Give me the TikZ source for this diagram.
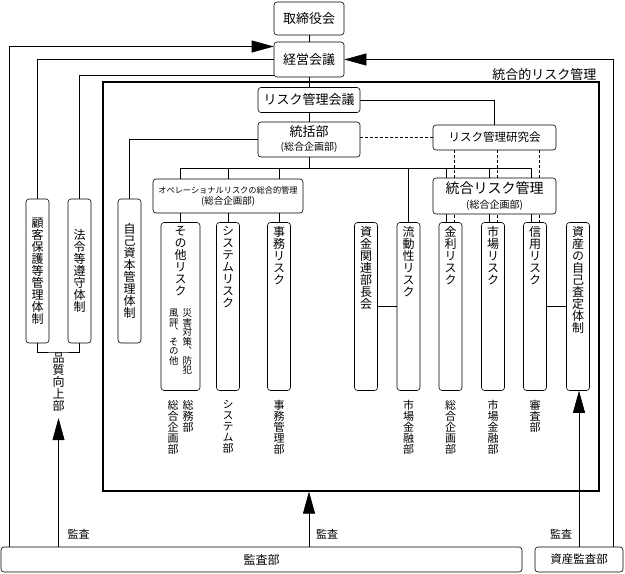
\documentclass[tikz,border=0pt]{standalone}
\usepackage{fontspec}
\setmainfont{Noto Sans CJK JP}
\newfontfamily\tatefont{Noto Sans CJK JP}[RawFeature=+vert]
\usetikzlibrary{arrows.meta}

% 縦書き（1文字ずつ積む）
\makeatletter
\def\tate@stop{\relax tate}
\def\tate@loop#1{\ifx#1\tate@stop\else\hbox to 1em{\hss#1\hss}\expandafter\tate@loop\fi}
\newcommand\tatetext[2][12pt]{\vtop{\tatefont\fontsize{#1}{#1}\selectfont
  \baselineskip=#1\relax\lineskiplimit=-100pt\relax
  \expandafter\tate@loop#2\tate@stop}}
\makeatother

\begin{document}
\begin{tikzpicture}[x=1pt, y=-1pt, line width=0.6pt,
    box/.style={draw, rounded corners=3pt, inner sep=0pt, align=center,
      font=\fontsize{13}{15}\selectfont},
    lowbox/.style={box, minimum width=23pt, minimum height=144pt},
    tallbox/.style={box, minimum width=23pt, minimum height=168pt},
    frameline/.style={draw, line width=1.2pt, inner sep=0pt,
      minimum width=496pt, minimum height=409pt},
    bigarrow/.style={-{Triangle[length=22pt,width=12pt]}},
    kenkyuline/.style={dash pattern=on 3pt off 2pt}]
  \useasboundingbox (0,0) rectangle (625,574);

  % 取締役会・経営会議
  \node[box, minimum width=70pt, minimum height=33pt] (torishimari) at (309,18.5) {取締役会};
  \node[box, minimum width=70pt, minimum height=35pt] (keiei) at (309,59.5) {経営会議};

  % 統合的リスク管理の枠
  \node[frameline] (frame) at (351,286.5) {};
  \node[anchor=south east, inner sep=1pt, font=\fontsize{13}{15}\selectfont]
    (framelabel) at ([xshift=-2pt]frame.north east) {統合的リスク管理};

  % 会議・統括部
  \node[box, minimum width=102pt, minimum height=25pt] (riskkaigi) at (309,100) {リスク管理会議};
  \node[box, minimum width=102pt, minimum height=35pt] (tokatsu) at (309,139.5)
    {統括部\\[-1pt]{\fontsize{10}{12}\selectfont (総合企画部)}};
  \node[box, minimum width=123pt, minimum height=25pt, font=\fontsize{11.5}{13}\selectfont]
    (kenkyu) at (494.5,137.5) {リスク管理研究会};
  \node[box, minimum width=150pt, minimum height=34pt, font=\fontsize{8.2}{10}\selectfont]
    (ope) at (228,196) {オペレーショナルリスクの総合的管理\\[1pt]{\fontsize{9.5}{11}\selectfont (総合企画部)}};

  % 縦長の箱
  \foreach \nm/\x/\txt in {kokyaku/37.5/顧客保護等管理体制, horei/79.5/法令等遵守体制,
      jiko/129.5/自己資本管理体制}
    \node[lowbox] (\nm) at (\x,271) {\tatetext{\txt}};

  \foreach \nm/\x/\txt in {system/228/システムリスク, jimu/279/事務リスク,
      shikin/366/資金関連部長会, ryudo/408.5/流動性リスク, kinri/450.5/金利リスク,
      shijo/493/市場リスク, shinyo/535/信用リスク, jisa/578/資産の自己査定体制}
    \node[tallbox] (\nm) at (\x,306.5) {\vbox to 165pt{\vskip2pt\tatetext{\txt}\vss}};

  \node[tallbox, minimum width=39pt] (sonota) at (180.5,306.5)
    {\vbox to 165pt{\vskip2pt\hbox to 36pt{\hss\tatetext{その他リスク}\hss}\vskip12pt
      \hbox to 36pt{\hss\tatetext[9.5pt]{風評、その他}\hskip4pt\tatetext[9.5pt]{災害対策、防犯}\hss}\vss}};

  % 所管部
  \node[anchor=north, inner sep=1pt] (hinshitsu) at (58.5,352) {\tatetext{品質向上部}};
  \foreach \nm/\x/\txt in {systembu/228/システム部, jimubu/279/事務管理部,
      ryudobu/408.5/市場金融部, kinribu/450.5/総合企画部, shijobu/493/市場金融部,
      shinyobu/535/審査部}
    \node[anchor=north, inner sep=0pt] (\nm) at (\x,400) {\tatetext[11pt]{\txt}};
  \node[anchor=north, inner sep=0pt] (sonotabu) at (180.5,400)
    {\tatetext[11pt]{総合企画部}\hskip4pt\tatetext[11pt]{総務部}};

  % 監査部
  \node[box, minimum width=521pt, minimum height=25pt, font=\fontsize{12}{14}\selectfont]
    (kansa) at (261.5,559.5) {監査部};
  \node[box, minimum width=88pt, minimum height=25pt, font=\fontsize{11.5}{14}\selectfont]
    (shisan) at (579,559.5) {資産監査部};
  \foreach \nm/\x in {kansaA/78.5, kansaB/327, kansaC/561}
    \node[font=\fontsize{11}{13}\selectfont, inner sep=0pt] (\nm) at (\x,534) {監査};

  % 上部の線
  \draw (torishimari) -- (keiei);
  \draw (keiei) -- (riskkaigi);
  \draw (riskkaigi) -- (tokatsu);
  \draw[bigarrow] ([xshift=9pt]kansa.north west) |- ([yshift=13pt]keiei.west);
  \draw[bigarrow] ([xshift=34pt]shisan.north) |- (keiei.east);
  \draw (keiei.west) -| (kokyaku.north);
  \draw ([yshift=-15.5pt]keiei.west) -| (horei.north);
  \draw (riskkaigi.east) -| (kenkyu.north);
  \draw (tokatsu.west) -| (jiko.north);
  \draw[kenkyuline] (tokatsu.east |- kenkyu.west) -- (kenkyu.west);

  % 統括部からの分岐
  \coordinate (bus) at ([yshift=-11pt]tokatsu.south);
  \draw (tokatsu.south) -- (bus);
  \foreach \nm in {kinri,shijo,shinyo} {
    \coordinate (\nm-s) at ([xshift=-4pt]\nm.north);
    \coordinate (\nm-d) at ([xshift=4pt]\nm.north);
  }
  \draw (sonota.north |- bus) -- (shinyo-s |- bus);
  \foreach \nm in {sonota,system,jimu} {
    \draw (\nm.north |- bus) -- (\nm.north |- ope.north);
    \draw (\nm.north |- ope.south) -- (\nm.north);
  }
  \draw (ryudo.north |- bus) -- (ryudo.north);
  \foreach \nm in {kinri,shijo,shinyo} {
    \draw (\nm-s |- bus) -- (\nm-s);
    \draw[kenkyuline] (\nm-d |- kenkyu.south) -- (\nm-d);
  }
  \draw (shikin.east) -- (ryudo.west);
  \draw (shinyo.east) -- (jisa.west);

  % 監査の矢印
  \draw (kokyaku.south) |- (hinshitsu.north) -| (horei.south);
  \draw[bigarrow] (kansa.north -| hinshitsu.south) -- ([yshift=-5pt]hinshitsu.south);
  \draw[bigarrow] (kansa.north -| keiei.south) -- (frame.south -| keiei.south);
  \draw[bigarrow] (shisan.north) -- (shisan.north |- jisa.south);

  % 統合リスク管理（線の上に重ねる）
  \node[box, fill=white, minimum width=123pt, minimum height=36pt, font=\fontsize{14}{16}\selectfont]
    (togo) at (494.5,196) {統合リスク管理\\[-1pt]{\fontsize{10}{12}\selectfont (総合企画部)}};
\end{tikzpicture}
\end{document}
